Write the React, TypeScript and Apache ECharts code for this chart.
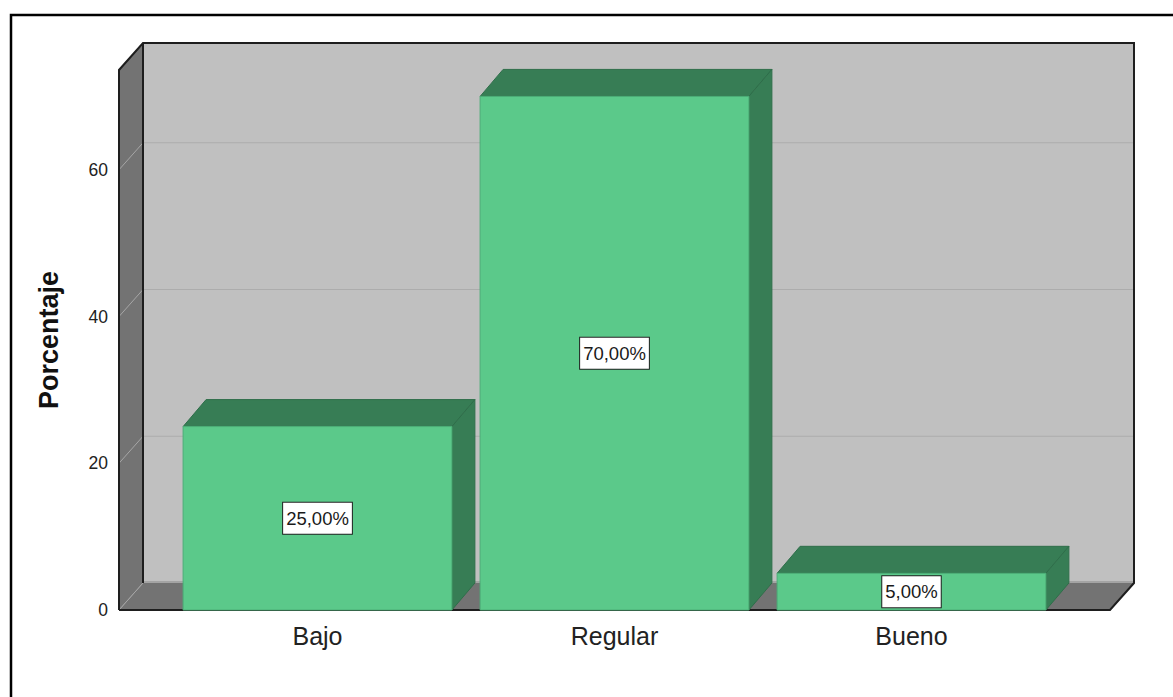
import React, { useEffect, useRef } from "react";
import * as echarts from "echarts";

const categories: string[] = ["Bajo", "Regular", "Bueno"];
const percentages: number[] = [25, 70, 5];
const yTicks: number[] = [0, 20, 40, 60];
const yMax = 73.6;
const yInterval = 20;

const FONT = 'Arial, "Liberation Sans", sans-serif';

export default function App() {
  const ref = useRef<HTMLDivElement>(null);

  useEffect(() => {
    if (!ref.current) return;
    const chart = echarts.init(ref.current, null, { renderer: "svg" });

    const DX = 24;
    const DY = -27;
    const PAD = 50;

    const wallsRender = (params: any, api: any) => {
      const cs = params.coordSys;
      const fl = cs.x - PAD;
      const fr = cs.x + cs.width + PAD;
      const yTop = cs.y;
      const y0 = api.coord([0, 0])[1];
      const children: any[] = [];
      children.push({
        type: "rect",
        shape: { x: fl + DX, y: yTop + DY, width: fr - fl, height: y0 - yTop },
        style: { fill: "#c0c0c0" },
      });
      children.push({
        type: "polygon",
        shape: { points: [[fl, yTop], [fl + DX, yTop + DY], [fl + DX, y0 + DY], [fl, y0]] },
        style: { fill: "#737373" },
      });
      children.push({
        type: "polygon",
        shape: { points: [[fl, y0], [fr, y0], [fr + DX, y0 + DY], [fl + DX, y0 + DY]] },
        style: { fill: "#737373" },
      });
      children.push({
        type: "line",
        shape: { x1: fl + DX, y1: y0 + DY - 1, x2: fr + DX, y2: y0 + DY - 1 },
        style: { stroke: "#a4a4a4", lineWidth: 2 },
      });
      yTicks.forEach((t) => {
        const yf = api.coord([0, t])[1];
        children.push({
          type: "line",
          shape: { x1: fl, y1: yf, x2: fl + DX, y2: yf + DY },
          style: { stroke: "#a6a6a6", lineWidth: 1 },
        });
        if (t > 0) {
          children.push({
            type: "line",
            shape: { x1: fl + DX, y1: yf + DY, x2: fr + DX, y2: yf + DY },
            style: { stroke: "#acacac", lineWidth: 1 },
          });
        }
      });
      const edge = { stroke: "#1e1e1e", lineWidth: 2, fill: null as any };
      children.push({
        type: "polyline",
        shape: {
          points: [
            [fl, y0],
            [fl, yTop],
            [fl + DX, yTop + DY],
            [fr + DX, yTop + DY],
            [fr + DX, y0 + DY],
            [fr, y0],
            [fl, y0],
          ],
        },
        style: edge,
      });
      children.push({
        type: "line",
        shape: { x1: fl + DX, y1: yTop + DY, x2: fl + DX, y2: y0 + DY },
        style: { stroke: "#1e1e1e", lineWidth: 2 },
      });
      return { type: "group", children };
    };

    const barsRender = (params: any, api: any) => {
      const idx = api.value(0);
      const val = api.value(1);
      const [cx, yt] = api.coord([idx, val]);
      const y0 = api.coord([idx, 0])[1];
      const bw = api.size([1, 0])[0] * 0.905;
      const x = cx - bw / 2;
      const dx = 23;
      const dy = -27;
      const label = val.toFixed(2).replace(".", ",") + "%";
      return {
        type: "group",
        children: [
          {
            type: "polygon",
            shape: { points: [[x, yt], [x + dx, yt + dy], [x + bw + dx, yt + dy], [x + bw, yt]] },
            style: { fill: "#377d55", stroke: "#2f6e4a", lineWidth: 1 },
          },
          {
            type: "polygon",
            shape: { points: [[x + bw, yt], [x + bw + dx, yt + dy], [x + bw + dx, y0 + dy], [x + bw, y0]] },
            style: { fill: "#377d55", stroke: "#2f6e4a", lineWidth: 1 },
          },
          {
            type: "rect",
            shape: { x, y: yt, width: bw, height: y0 - yt },
            style: { fill: "#5bc98a", stroke: "#4cae77", lineWidth: 1 },
          },
          {
            type: "text",
            x: cx,
            y: (yt + y0) / 2,
            style: {
              text: label,
              font: `18.5px ${FONT}`,
              fill: "#1a1a1a",
              align: "center",
              verticalAlign: "middle",
              backgroundColor: "#ffffff",
              borderColor: "#222",
              borderWidth: 1,
              padding: [6, 3, 6, 3],
            },
          },
        ],
      };
    };

    chart.setOption({
      animation: false,
      backgroundColor: "#ffffff",
      grid: { left: 169, right: 113, top: 70, bottom: 87 },
      graphic: [
        {
          type: "rect",
          shape: { x: 11, y: 15, width: 1175, height: 700 },
          style: { fill: null, stroke: "#000", lineWidth: 2.5 },
          z: 100,
        },
      ],
      xAxis: {
        type: "category",
        data: categories,
        axisLine: { show: false },
        axisTick: { show: false },
        axisLabel: { fontSize: 25, fontFamily: FONT, color: "#222", margin: 13 },
      },
      yAxis: {
        type: "value",
        min: 0,
        max: yMax,
        interval: yInterval,
        offset: 50,
        axisLine: { show: false },
        axisTick: { show: false },
        splitLine: { show: false },
        axisLabel: {
          fontSize: 17.5,
          fontFamily: FONT,
          color: "#222",
          margin: 11,
          showMaxLabel: false,
          formatter: (v: number) => (yTicks.includes(v) ? String(v) : ""),
        },
        name: "Porcentaje",
        nameLocation: "middle",
        nameRotate: 90,
        nameGap: 57,
        nameTextStyle: { fontSize: 27, fontWeight: "bold", fontFamily: FONT, color: "#111" },
      },
      series: [
        {
          type: "custom",
          coordinateSystem: "cartesian2d",
          renderItem: wallsRender,
          data: [[0, 0]],
          clip: false,
          silent: true,
          z: 1,
        },
        {
          type: "custom",
          coordinateSystem: "cartesian2d",
          renderItem: barsRender,
          encode: { x: 0, y: 1 },
          data: categories.map((c, i) => [i, percentages[i]]),
          clip: false,
          z: 2,
        },
      ],
    });

    return () => chart.dispose();
  }, []);

  return (
    <div
      ref={ref}
      style={{ position: "fixed", left: 0, top: 0, width: 1173, height: 697, background: "#fff" }}
    />
  );
}
